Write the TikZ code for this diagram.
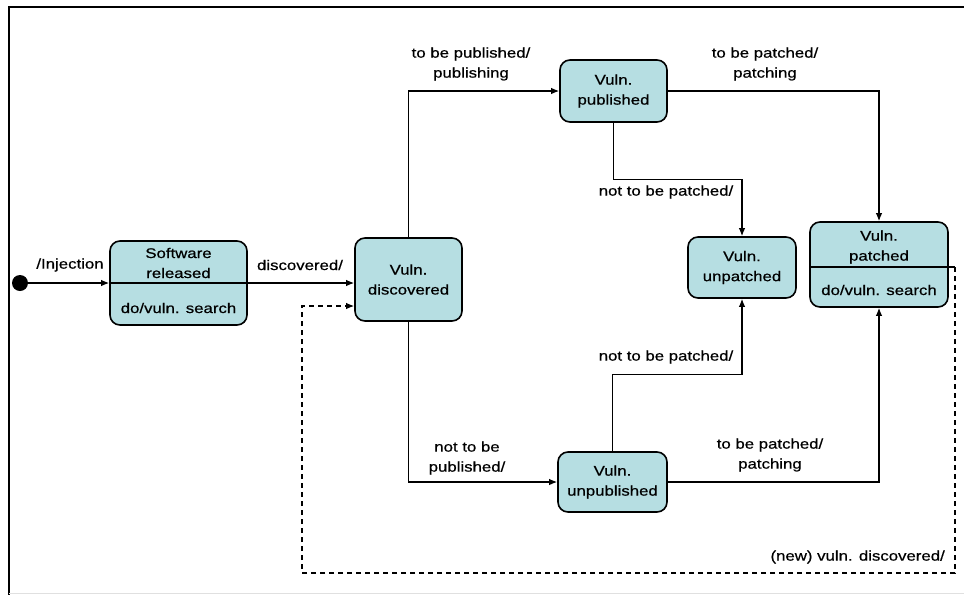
\documentclass[tikz,border=0pt]{standalone}
\usepackage{fontspec}
\setmainfont{Liberation Sans}[FakeStretch=1.2,FakeBold=0.6]
\usetikzlibrary{arrows.meta}
\definecolor{statefill}{RGB}{182,222,226}
\begin{document}
\begin{tikzpicture}[x=1pt,y=-1pt,
  txt/.style={align=center, inner sep=0pt, font=\fontsize{14}{20}\selectfont},
  state/.style={txt, draw=black, line width=1.6pt, fill=statefill, rounded corners=10pt},
  flow/.style={line width=1.3pt, -{Latex[length=8pt,width=6.5pt]}},
  plain/.style={line width=1.3pt},
  loopback/.style={line width=1.3pt, dash pattern=on 5pt off 4pt, -{Latex[length=8pt,width=6.5pt]}},
]
\useasboundingbox (0,0) rectangle (964,595);
% page frame
\draw[line width=2.5pt] (964,7) -- (9,7) -- (9,595);
\draw[line width=0.6pt, black!12] (9,593) -- (964,593);

% states
\node[state, minimum width=137pt, minimum height=84pt] (sw) at (178.5,283) {};
\node[txt] (swname) at (178.5,263) {Software\\released};
\node[txt] (swdo) at (178.5,308) {do/vuln. search};
\node[state, minimum width=107pt, minimum height=83pt] (disc) at (408.5,279.5) {Vuln.\\discovered};
\node[state, minimum width=107pt, minimum height=62pt] (pub) at (613.5,91) {Vuln.\\published};
\node[state, minimum width=109pt, minimum height=60pt] (unpub) at (612.5,482) {Vuln.\\unpublished};
\node[state, minimum width=108pt, minimum height=61pt] (unpat) at (742,267.5) {Vuln.\\unpatched};
\node[state, minimum width=138pt, minimum height=85pt] (pat) at (879,264.5) {};
\node[txt] (patname) at (879,247) {Vuln.\\patched};
\node[txt] (patdo) at (879,290) {do/vuln. search};

% initial pseudo-state
\node[circle, fill=black, inner sep=0pt, minimum size=16pt] (init) at (20,283) {};

% compartment dividers
\draw[plain] (sw.west) -- (sw.east);
\coordinate (loopstart) at (955,267);
\draw[plain] (pat.west |- loopstart) -- (loopstart);

% transitions
\draw[flow] (init) -- (sw.west);
\node[txt] (linj) at (70,265) {/Injection};
\draw[flow] (sw.east) -- (sw.east -| disc.west);
\node[txt] (ldisc) at (300,265) {discovered/};

\draw[flow] (disc.north) |- (pub.west);
\node[txt] (lpub) at (471,64) {to be published/\\publishing};

\draw[flow] (pub.east) -| (pat.north);
\node[txt] (lpat1) at (765,64) {to be patched/\\patching};

\draw[flow] (pub.south) -- ++(0,57) -| (unpat.north);
\node[txt] (lnp1) at (666,192) {not to be patched/};

\draw[flow] (disc.south) |- (unpub.west);
\node[txt] (lnpub) at (467,458) {not to be\\published/};

\draw[flow] (unpub.north) -- ++(0,-77) -| (unpat.south);
\node[txt] (lnp2) at (666,357) {not to be patched/};

\draw[flow] (unpub.east) -| (pat.south);
\node[txt] (lpat2) at (770,455) {to be patched/\\patching};

% re-discovery loop
\coordinate (loopbr) at (955,573);
\coordinate (loopbl) at (302,573);
\coordinate (looptl) at (302,306);
\draw[loopback] (loopstart) -- (loopbr) -- (loopbl) -- (looptl) -- (looptl -| disc.west);
\node[txt, anchor=east] (lnew) at (945,557) {(new) vuln. discovered/};
\end{tikzpicture}
\end{document}
